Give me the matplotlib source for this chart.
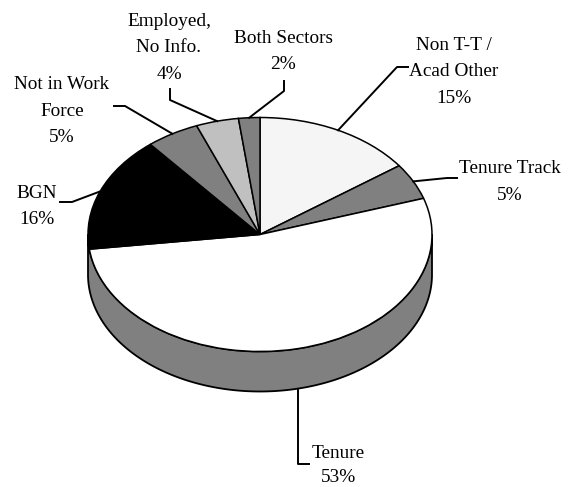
import numpy as np
import matplotlib
matplotlib.use("Agg")
import matplotlib.pyplot as plt
from matplotlib.patches import Polygon

labels = ["Non T-T /\nAcad Other", "Tenure Track", "Tenure", "BGN",
          "Not in Work\nForce", "Employed,\nNo Info.", "Both Sectors"]
values = [15, 5, 53, 16, 5, 4, 2]
colors = ["#f5f5f5", "#808080", "#ffffff", "#000000", "#808080", "#c0c0c0", "#808080"]

W, H = 571, 487
CX, CY, RX, RY, DEPTH = 260, 234.5, 172, 117, 40

plt.rcParams["font.family"] = "Liberation Serif"
fig = plt.figure(figsize=(W / 100, H / 100), dpi=100)
ax = fig.add_axes([0, 0, 1, 1])

def P(x, y):
    return (x - CX) / RX, (CY - y) / RY

xl = P(0, 0)[0], P(W, 0)[0]
yl = P(0, H)[1], P(0, 0)[1]

# side wall, from the bottom half of the rim
t = np.radians(np.linspace(180, 360, 200))
rim = np.c_[np.cos(t), np.sin(t)]
low = rim - [0, DEPTH / RY]
wall = np.vstack([rim, low[::-1]])
ax.add_patch(Polygon(wall, closed=True, fc="#808080", ec="black", lw=1.3, zorder=1))

ax.pie(values, colors=colors, startangle=90, counterclock=False, radius=1,
       wedgeprops=dict(edgecolor="black", linewidth=1.1, zorder=2))
ax.set_aspect("auto")
ax.set_xlim(*xl)
ax.set_ylim(*yl)
ax.axis("off")

def anchor(i):
    f = (sum(values[:i]) + values[i] / 2) / sum(values)
    a = 2 * np.pi * f
    return np.sin(a), np.cos(a)

# leader elbows in pixels
leaders = {
    0: [(397, 67), (408, 67)],
    1: [(447, 178), (457, 178)],
    3: [(72, 202), (60, 202)],
    4: [(125, 106), (114, 106)],
    5: [(170, 100), (170, 89)],
    6: [(284, 91), (284, 81)],
}
for i, pts in leaders.items():
    xs, ys = zip(*[P(*p) for p in pts])
    a = anchor(i)
    ax.plot([a[0], *xs], [a[1], *ys], color="black", lw=1.4, zorder=3, clip_on=False)

# Tenure leader starts on the wall's lower edge
xs, ys = zip(*[P(*p) for p in [(298, 389), (298, 464), (309, 464)]])
ax.plot(xs, ys, color="black", lw=1.4, zorder=3)

texts = [
    (454, 72, "Non T-T /\nAcad Other\n15%", 1.71),
    (510, 182, "Tenure Track\n5%", 1.71),
    (338, 465.5, "Tenure\n53%", 1.55),
    (37, 206.5, "BGN\n16%", 1.71),
    (62, 111, "Not in Work\nForce\n5%", 1.71),
    (169, 48, "Employed,\nNo Info.\n4%", 1.71),
    (283, 51.5, "Both Sectors\n2%", 1.71),
]
for x, y, s, ls in texts:
    ax.text(*P(x, y), s, ha="center", va="center", fontsize=13.9, linespacing=ls, color="black")

fig.savefig("out.png", dpi=100, facecolor="white")
